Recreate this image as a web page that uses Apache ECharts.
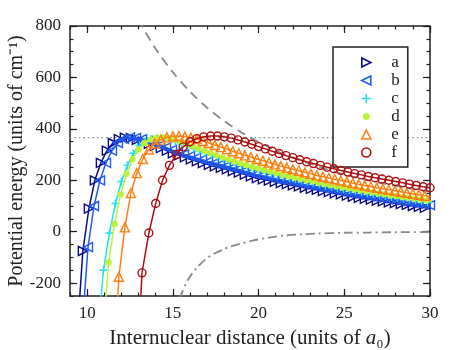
<!DOCTYPE html>
<html>
<head>
<meta charset="utf-8">
<script src="https://cdn.jsdelivr.net/npm/echarts@6.0.0/dist/echarts.min.js"></script>
<style>
  html, body { margin: 0; padding: 0; background: #fff; }
  #chart { width: 474px; height: 350px; }
</style>
</head>
<body>
<div id="chart"></div>
<script>
// tick labels
const xMajor = [10, 15, 20, 25, 30];
const yMajor = [-200, 0, 200, 400, 600, 800];

// series a..f : internuclear distance R and potential energy E
const aR = [9.4,9.75,10.1,10.45,10.8,11.15,11.5,11.85,12.2,12.55,12.9,13.25,13.6,13.95,14.3,14.65,15.0,15.35,15.7,16.05,16.4,16.75,17.1,17.45,17.8,18.15,18.5,18.85,19.2,19.55,19.9,20.25,20.6,20.95,21.3,21.65,22.0,22.35,22.7,23.05,23.4,23.75,24.1,24.45,24.8,25.15,25.5,25.85,26.2,26.55,26.9,27.25,27.6,27.95,28.3,28.65,29.0,29.35,29.7,30.05];
const aE = [-420,-75,90,200,268,315,345,360,366,364,357,350,342,334,325,315,305,297,289,281,274,267,260,254,248,242,236,230,222,215,208,204,199,194,189,185,180,176,171,167,163,158,154,149,145,140,136,132,128,125,121,118,114,111,107,104,100,97,93,90];

const bR = [9.7,10.05,10.4,10.75,11.1,11.45,11.8,12.15,12.5,12.85,13.2,13.55,13.9,14.25,14.6,14.95,15.3,15.65,16.0,16.35,16.7,17.05,17.4,17.75,18.1,18.45,18.8,19.15,19.5,19.85,20.2,20.55,20.9,21.25,21.6,21.95,22.3,22.65,23.0,23.35,23.7,24.05,24.4,24.75,25.1,25.45,25.8,26.15,26.5,26.85,27.2,27.55,27.9,28.25,28.6,28.95,29.3,29.65,30.0];
const bE = [-380,-60,100,200,268,315,345,361,367,365,360,353,345,337,328,318,309,301,294,287,280,273,267,261,255,249,243,236,230,223,218,213,208,203,198,193,189,184,180,175,171,166,162,157,153,149,145,141,137,133,130,126,123,119,116,112,109,106,103];

const cR = [10.6,10.95,11.3,11.65,12.0,12.35,12.7,13.05,13.4,13.75,14.1,14.45,14.8,15.15,15.5,15.85,16.2,16.55,16.9,17.25,17.6,17.95,18.3,18.65,19.0,19.35,19.7,20.05,20.4,20.75,21.1,21.45,21.8,22.15,22.5,22.85,23.2,23.55,23.9,24.25,24.6,24.95,25.3,25.65,26.0,26.35,26.7,27.05,27.4,27.75,28.1,28.45,28.8,29.15,29.5,29.85,30.2];
const cE = [-420,-150,-5,110,195,258,305,335,352,361,364,363,358,350,341,332,323,314,305,297,289,281,273,265,258,251,244,238,232,226,220,214,209,204,199,194,189,184,179,175,170,166,162,158,154,150,146,142,139,135,132,128,125,122,118,115,112];

const dR = [10.9,11.25,11.6,11.95,12.3,12.65,13.0,13.35,13.7,14.05,14.4,14.75,15.1,15.45,15.8,16.15,16.5,16.85,17.2,17.55,17.9,18.25,18.6,18.95,19.3,19.65,20.0,20.35,20.7,21.05,21.4,21.75,22.1,22.45,22.8,23.15,23.5,23.85,24.2,24.55,24.9,25.25,25.6,25.95,26.3,26.65,27.0,27.35,27.7,28.05,28.4,28.75,29.1,29.45,29.8,30.15];
const dE = [-420,-120,30,145,225,282,320,345,359,366,367,364,358,350,341,332,323,314,305,297,289,281,273,266,259,252,246,240,234,228,222,216,211,206,201,196,191,186,182,177,173,169,165,161,157,153,149,146,142,139,135,132,128,125,122,119];

const eR = [11.5,11.85,12.2,12.55,12.9,13.25,13.6,13.95,14.3,14.65,15.0,15.35,15.7,16.05,16.4,16.75,17.1,17.45,17.8,18.15,18.5,18.85,19.2,19.55,19.9,20.25,20.6,20.95,21.3,21.65,22.0,22.35,22.7,23.05,23.4,23.75,24.1,24.45,24.8,25.15,25.5,25.85,26.2,26.55,26.9,27.25,27.6,27.95,28.3,28.65,29.0,29.35,29.7,30.05];
const eE = [-600,-175,17,150,228,283,320,343,358,367,371,372,370,366,360,353,345,337,329,321,313,305,297,290,283,276,269,262,255,249,243,237,231,225,219,214,209,204,199,194,189,184,180,176,171,167,163,159,155,151,147,144,140,137];

const fR = [12.8,13.2,13.6,14.0,14.4,14.8,15.2,15.6,16.0,16.4,16.8,17.2,17.6,18.0,18.4,18.8,19.2,19.6,20.0,20.4,20.8,21.2,21.6,22.0,22.4,22.8,23.2,23.6,24.0,24.4,24.8,25.2,25.6,26.0,26.4,26.8,27.2,27.6,28.0,28.4,28.8,29.2,29.6,30.0];
const fE = [-700,-160,-5,110,200,258,300,330,350,362,369,372,372,369,364,357,349,340,331,322,313,304,296,288,280,272,265,258,251,245,238,232,226,221,215,210,205,200,195,190,185,180,175,171];

// gray reference curves
const dashR = [13.0,13.2,14,15,16,17,18,19,20,21,22,23,24,25,26,27,28,29,30];
const dashE = [825,800,711,620,545,482,430,386,349,316,288,264,242,223,206,191,178,166,155];
const ddR = [15.1,15.45,15.9,16.4,16.9,17.4,17.9,18.4,19.0,19.7,20.5,21.5,22.5,23.5,25,26.5,28,30];
const ddE = [-330,-250,-185,-140,-108,-86,-70,-57,-46,-34,-24,-15,-10,-7,-4,-3,-2,-1];
const dotR = [9, 30];
const dotE = [366, 366];

const FONT = 'Liberation Serif';
const INK = '#222';

function zip(r, e) {
    const n = Math.min(r.length, e.length);
    const out = [];
    for (let i = 0; i < n; i++) out.push([r[i], e[i]]);
    return out;
}

// legend/marker glyphs (the leading moves keep the dot inside a 10x10 box)
const RIGHT_TRI = 'path://M0,0L10,5L0,10Z';
const LEFT_TRI = 'path://M10,0L0,5L10,10Z';
const UP_TRI = 'path://M5,0L10,10L0,10Z';
const PLUS = 'path://M5,0L5,10M0,5L10,5';
const DOT = 'path://M0,0M10,10M8,5A3,3,0,1,1,2,5A3,3,0,1,1,8,5Z';

const styles = [
    {name: 'a', r: aR, e: aE, color: '#0a0a8c', symbol: 'triangle', rotate: -90, size: 9, filled: false, icon: RIGHT_TRI},
    {name: 'b', r: bR, e: bE, color: '#1f5cf2', symbol: 'triangle', rotate: 90, size: 9, filled: false, icon: LEFT_TRI},
    {name: 'c', r: cR, e: cE, color: '#22dff2', symbol: PLUS, rotate: 0, size: 8, filled: false, icon: PLUS},
    {name: 'd', r: dR, e: dE, color: '#bdf23a', symbol: 'circle', rotate: 0, size: 5, filled: true, icon: DOT},
    {name: 'e', r: eR, e: eE, color: '#ff8012', symbol: 'triangle', rotate: 0, size: 9, filled: false, icon: UP_TRI},
    {name: 'f', r: fR, e: fE, color: '#ad1010', symbol: 'circle', rotate: 0, size: 8, filled: false, icon: 'circle'},
];

const grayLine = (r, e, type, width) => ({
    type: 'line',
    data: zip(r, e),
    showSymbol: false,
    smooth: 0.3,
    lineStyle: {color: '#8a8a8a', width: width, type: type},
    emphasis: {disabled: true},
    z: 1
});

const series = [
    grayLine(dotR, dotE, [1.5, 3], 1.3),
    grayLine(dashR, dashE, [9, 6], 1.8),
    grayLine(ddR, ddE, [9, 4, 2, 4], 1.8),
];
styles.forEach((s, i) => {
    series.push({
        type: 'line',
        name: s.name,
        data: zip(s.r, s.e),
        symbol: s.symbol,
        symbolSize: s.size,
        symbolRotate: s.rotate,
        showAllSymbol: true,
        lineStyle: {color: s.color, width: 1.5},
        itemStyle: {color: s.filled ? s.color : 'transparent', borderColor: s.color, borderWidth: 1.4},
        emphasis: {disabled: true},
        z: 2 + i
    });
});

const tickAxis = (pos, kind, extra) => Object.assign({
    type: 'value',
    position: pos,
    axisLine: {show: false, onZero: false},
    splitLine: {show: false},
    axisLabel: {show: false},
    axisTick: {show: true, inside: true, length: 3.5, lineStyle: {color: INK, width: 1.2}}
}, kind === 'x' ? {min: 9, max: 30, interval: 1} : {min: -250, max: 800, interval: 50}, extra || {});

const majorTicks = vals => ({axisTick: {show: true, inside: true, length: 7, customValues: vals, lineStyle: {color: INK, width: 1.2}}});

const labelStyle = {show: true, fontFamily: FONT, fontSize: 17, color: INK};

const chart = echarts.init(document.getElementById('chart'));
chart.setOption({
    animation: false,
    backgroundColor: '#fff',
    grid: {
        left: 70, right: 44, top: 26, bottom: 54,
        outerBoundsMode: 'none',
        show: true, borderColor: INK, borderWidth: 1.5, backgroundColor: '#fff'
    },
    xAxis: [
        tickAxis('bottom', 'x', {
            axisLabel: Object.assign({customValues: xMajor, margin: 9}, labelStyle),
            name: '{t|Internuclear distance (units of }{i|a}{t|\u2080)}',
            nameLocation: 'middle',
            nameGap: 32,
            nameMoveOverlap: false,
            nameTextStyle: {
                rich: {
                    t: {fontFamily: FONT, fontSize: 21, color: INK},
                    i: {fontFamily: FONT, fontSize: 21, color: INK, fontStyle: 'italic'}
                }
            }
        }),
        tickAxis('bottom', 'x', majorTicks(xMajor)),
        tickAxis('top', 'x'),
        tickAxis('top', 'x', majorTicks(xMajor))
    ],
    yAxis: [
        tickAxis('left', 'y', {
            axisLabel: Object.assign({customValues: yMajor, margin: 9}, labelStyle),
            name: 'Potential energy (units of cm\u207B\u00B9)',
            nameLocation: 'middle',
            nameGap: 43,
            nameMoveOverlap: false,
            nameTextStyle: {fontFamily: FONT, fontSize: 20, color: INK}
        }),
        tickAxis('left', 'y', majorTicks(yMajor)),
        tickAxis('right', 'y'),
        tickAxis('right', 'y', majorTicks(yMajor))
    ],
    legend: {
        orient: 'vertical',
        left: 333,
        top: 47,
        padding: [7, 8, 6, 28],
        itemWidth: 40,
        itemHeight: 9,
        itemGap: 1,
        backgroundColor: '#fff',
        borderColor: INK,
        borderWidth: 1.5,
        borderRadius: 0,
        selectedMode: false,
        textStyle: {fontFamily: FONT, fontSize: 17, color: INK, lineHeight: 14},
        data: styles.map(s => ({
            name: s.name,
            icon: s.icon,
            itemStyle: {color: s.filled ? s.color : 'transparent', borderColor: s.color, borderWidth: 1.6}
        }))
    },
    series: series
});
</script>
</body>
</html>
